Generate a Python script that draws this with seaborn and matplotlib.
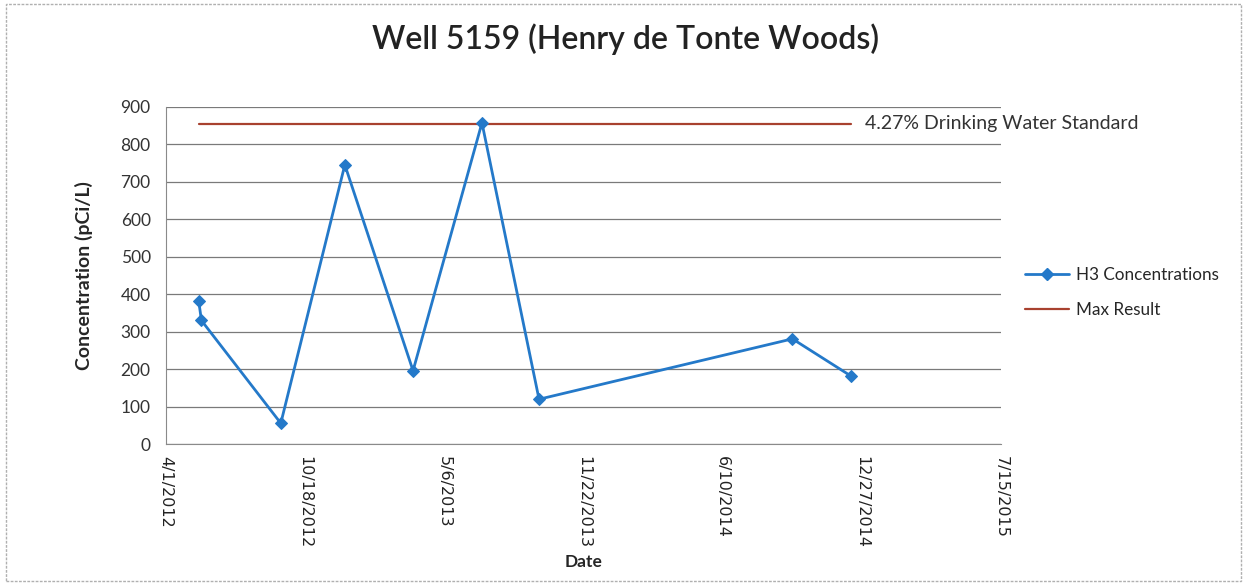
import pandas as pd
import numpy as np
import matplotlib.pyplot as plt
from matplotlib.lines import Line2D
from matplotlib.patches import Rectangle
import seaborn as sns

# sample dates and tritium results (pCi/L)
sample_dates = ["2012-05-18", "2012-05-22", "2012-09-13", "2012-12-14", "2013-03-22",
                "2013-06-29", "2013-09-19", "2014-09-18", "2014-12-11"]
h3_values = [383, 330, 56, 745, 196, 857, 120, 281, 182]

# max result / drinking water standard line
max_dates = ["2012-05-18", "2014-12-11"]
max_values = [854, 854]

tick_dates = ["2012-04-01", "2012-10-18", "2013-05-06", "2013-11-22",
              "2014-06-10", "2014-12-27", "2015-07-15"]
y_ticks = [0, 100, 200, 300, 400, 500, 600, 700, 800, 900]

df = pd.DataFrame({"Date": pd.to_datetime(sample_dates), "H3": h3_values})
df_max = pd.DataFrame({"Date": pd.to_datetime(max_dates), "Max": max_values})

sns.set_style("white")
plt.rcParams['font.family'] = ['Lato', 'DejaVu Sans']

blue = "#2479c9"
red = "#a8412f"

fig = plt.figure(figsize=(12.43, 5.83), dpi=100)
ax = fig.add_axes([0.1335, 0.238, 0.672, 0.579])

ax.yaxis.grid(True, color="#7a7a7a", linewidth=0.9)
ax.set_axisbelow(True)

sns.lineplot(data=df_max, x="Date", y="Max", color=red, linewidth=1.6, ax=ax)
sns.lineplot(data=df, x="Date", y="H3", color=blue, linewidth=2, marker="D",
             markersize=6, markeredgecolor=blue, sort=False, ax=ax)

ticks = pd.to_datetime(tick_dates)
ax.set_xlim(ticks[0], ticks[-1])
ax.set_xticks(ticks)
ax.set_xticklabels([f"{d.month}/{d.day}/{d.year}" for d in ticks],
                   rotation=270, fontsize=11.5, family="DejaVu Sans", color="#222222")
ax.set_ylim(0, 900)
ax.set_yticks(y_ticks)
ax.set_yticklabels([str(v) for v in y_ticks], fontsize=12.5, color="#333333")

for s in ["top", "right"]:
    ax.spines[s].set_visible(False)
ax.spines["left"].set_color("#8a8a8a")
ax.spines["bottom"].set_color("#8a8a8a")
ax.tick_params(axis="both", direction="out", length=5, color="#8a8a8a", width=0.9)
ax.tick_params(axis="y", pad=6)

ax.set_xlabel("Date", fontsize=12.5, fontweight="bold", labelpad=4)
ax.set_ylabel("Concentration (pCi/L)", fontsize=14, fontweight="bold", labelpad=20)

ax.text(pd.Timestamp("2014-12-31"), max_values[0], "4.27% Drinking Water Standard",
        fontsize=14, color="#333333", va="center", ha="left")

fig.suptitle("Well 5159 (Henry de Tonte Woods)", fontsize=23, fontweight="semibold",
             color="#222222", x=0.503, y=0.96)

handles = [Line2D([], [], color=blue, linewidth=2, marker="D", markersize=6),
           Line2D([], [], color=red, linewidth=1.6)]
ax.legend(handles, ["H3 Concentrations", "Max Result"], loc="center left",
          bbox_to_anchor=(1.01, 0.45), frameon=False, fontsize=12.3,
          handlelength=2.6, labelspacing=1.1, handletextpad=0.4)

fig.patches.append(Rectangle((6 / 1243, 2 / 583), 1235 / 1243, 577 / 583,
                             transform=fig.transFigure, fill=False,
                             edgecolor="#b0b0b0", linewidth=1, linestyle=(0, (2, 1))))

fig.savefig("out.png", dpi=100)
